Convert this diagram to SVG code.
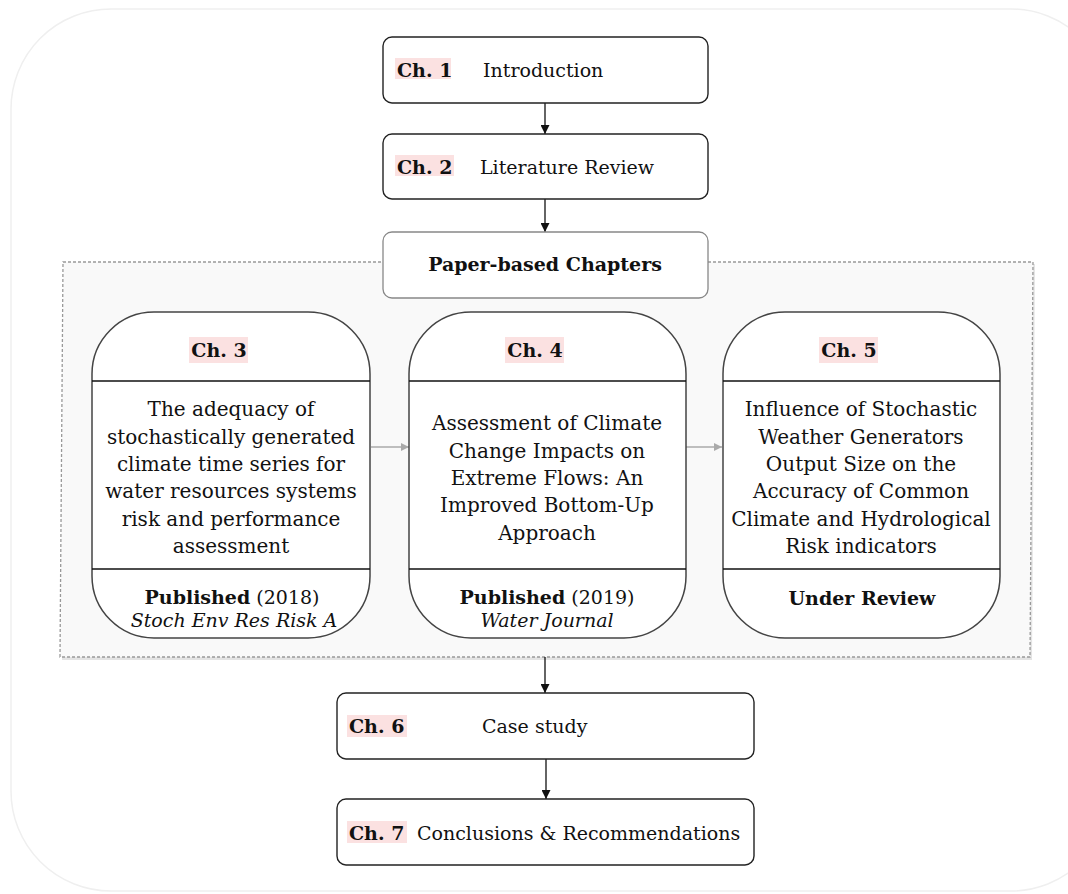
<svg xmlns="http://www.w3.org/2000/svg" width="1068" height="894" viewBox="0 0 1068 894">
<defs>
<style>
.t{font-family:"DejaVu Serif","Liberation Serif",serif;font-size:19px;fill:#111;}
.bd{font-size:20px;}
.b{font-weight:bold;}
.i{font-style:italic;}
.box{fill:#fff;stroke:#222;stroke-width:1.4;}
.col{fill:#fff;stroke:#444;stroke-width:1.5;}
.hl{fill:#fbe1e1;}
.ln{stroke:#111;stroke-width:1.3;fill:none;}
.gl{stroke:#aaa;stroke-width:1.3;fill:none;}
</style>
<marker id="ah" viewBox="0 0 10 10" refX="10" refY="5" markerWidth="9" markerHeight="9" markerUnits="userSpaceOnUse" orient="auto"><path d="M0,0 L10,5 L0,10 z" fill="#111"/></marker>
<marker id="ahg" viewBox="0 0 10 10" refX="10" refY="5" markerWidth="8" markerHeight="8" markerUnits="userSpaceOnUse" orient="auto"><path d="M0,0 L10,5 L0,10 z" fill="#aaa"/></marker>
</defs>
<rect x="0" y="0" width="1068" height="894" fill="#fff"/>
<rect x="11" y="9" width="1100" height="882" rx="100" fill="#fff" stroke="#efefef" stroke-width="1.5"/>
<g id="container">
<path d="M65,264 L1035,264 L1032,660 L62,660 Z" fill="#e4e4e4"/>
<path d="M63,262 L1033,262 L1030,657 L60,657 Z" fill="#f9f9f9" stroke="#999" stroke-width="1.3" stroke-dasharray="3,2"/>
</g>
<g id="connectors">
<line class="ln" x1="545" y1="103" x2="545" y2="134" marker-end="url(#ah)"/>
<line class="ln" x1="545" y1="199" x2="545" y2="232" marker-end="url(#ah)"/>
<line class="ln" x1="545" y1="657" x2="545" y2="693" marker-end="url(#ah)"/>
<line class="ln" x1="546" y1="759" x2="546" y2="799" marker-end="url(#ah)"/>
<line class="gl" x1="371" y1="447" x2="409" y2="447" marker-end="url(#ahg)"/>
<line class="gl" x1="686" y1="447" x2="722" y2="447" marker-end="url(#ahg)"/>
</g>
<g id="ch1">
<rect class="box" x="383" y="37" width="325" height="66" rx="9"/>
<rect class="hl" x="395" y="58" width="56" height="21"/>
<text class="t b" x="397" y="77">Ch. 1</text>
<text class="t" x="483" y="77">Introduction</text>
</g>
<g id="ch2">
<rect class="box" x="383" y="134" width="325" height="65" rx="9"/>
<rect class="hl" x="395" y="155" width="59" height="21"/>
<text class="t b" x="397" y="174">Ch. 2</text>
<text class="t" x="480" y="174">Literature Review</text>
</g>
<g id="paper">
<rect x="383" y="232" width="325" height="66" rx="9" fill="#fff" stroke="#888" stroke-width="1.3"/>
<text class="t b" x="545" y="271" text-anchor="middle">Paper-based Chapters</text>
</g>
<g id="ch3">
<rect class="col" x="92" y="312" width="278" height="326" rx="62"/>
<line class="ln" x1="92" y1="381" x2="370" y2="381" stroke="#333"/>
<line class="ln" x1="92" y1="569" x2="370" y2="569" stroke="#333"/>
<rect class="hl" x="189" y="337" width="59" height="26"/>
<text class="t b" x="219" y="357" text-anchor="middle">Ch. 3</text>
<text class="t bd" x="231" text-anchor="middle"><tspan x="231" y="416">The adequacy of</tspan><tspan x="231" y="443.5">stochastically generated</tspan><tspan x="231" y="471">climate time series for</tspan><tspan x="231" y="498">water resources systems</tspan><tspan x="231" y="526">risk and performance</tspan><tspan x="231" y="553">assessment</tspan></text>
<text class="t" x="232" y="604" text-anchor="middle"><tspan class="b">Published</tspan> (2018)</text>
<text class="t i" x="234" y="627" text-anchor="middle">Stoch Env Res Risk A</text>
</g>
<g id="ch4">
<rect class="col" x="409" y="312" width="277" height="326" rx="62"/>
<line class="ln" x1="409" y1="381" x2="686" y2="381" stroke="#333"/>
<line class="ln" x1="409" y1="569" x2="686" y2="569" stroke="#333"/>
<rect class="hl" x="505" y="337" width="59" height="26"/>
<text class="t b" x="535" y="357" text-anchor="middle">Ch. 4</text>
<text class="t bd" x="547" text-anchor="middle"><tspan x="547" y="430">Assessment of Climate</tspan><tspan x="547" y="457.5">Change Impacts on</tspan><tspan x="547" y="485">Extreme Flows: An</tspan><tspan x="547" y="512">Improved Bottom-Up</tspan><tspan x="547" y="540">Approach</tspan></text>
<text class="t" x="547" y="604" text-anchor="middle"><tspan class="b">Published</tspan> (2019)</text>
<text class="t i" x="547" y="627" text-anchor="middle">Water Journal</text>
</g>
<g id="ch5">
<rect class="col" x="723" y="312" width="277" height="326" rx="62"/>
<line class="ln" x1="723" y1="381" x2="1000" y2="381" stroke="#333"/>
<line class="ln" x1="723" y1="569" x2="1000" y2="569" stroke="#333"/>
<rect class="hl" x="819" y="337" width="59" height="26"/>
<text class="t b" x="849" y="357" text-anchor="middle">Ch. 5</text>
<text class="t bd" x="861" text-anchor="middle"><tspan x="861" y="416">Influence of Stochastic</tspan><tspan x="861" y="443.5">Weather Generators</tspan><tspan x="861" y="471">Output Size on the</tspan><tspan x="861" y="498">Accuracy of Common</tspan><tspan x="861" y="526">Climate and Hydrological</tspan><tspan x="861" y="553">Risk indicators</tspan></text>
<text class="t b" x="862" y="605" text-anchor="middle">Under Review</text>
</g>
<g id="ch6">
<rect class="box" x="337" y="693" width="417" height="66" rx="9"/>
<rect class="hl" x="347" y="715" width="60" height="22"/>
<text class="t b" x="349" y="733">Ch. 6</text>
<text class="t" x="482" y="733">Case study</text>
</g>
<g id="ch7">
<rect class="box" x="337" y="799" width="417" height="66" rx="9"/>
<rect class="hl" x="347" y="821" width="60" height="22"/>
<text class="t b" x="349" y="840">Ch. 7</text>
<text class="t" x="417" y="840">Conclusions &amp; Recommendations</text>
</g>
</svg>
